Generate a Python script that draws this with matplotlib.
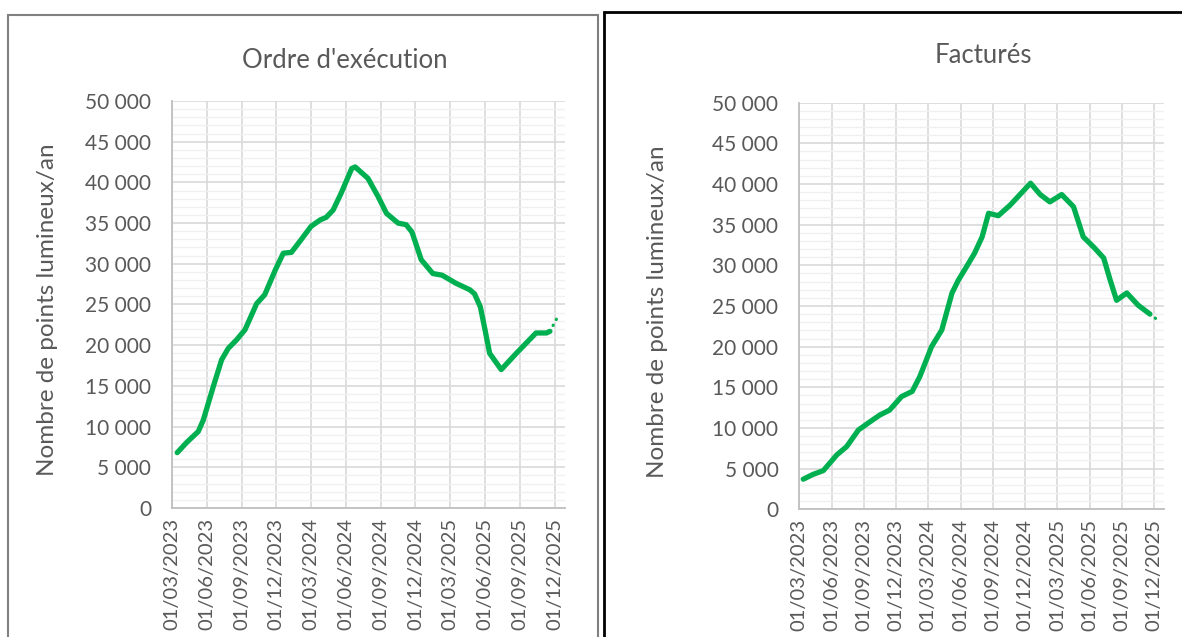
import matplotlib
matplotlib.use("Agg")
import matplotlib.pyplot as plt
from matplotlib.ticker import MultipleLocator, FuncFormatter
from matplotlib.patches import Rectangle

plt.rcParams['font.family'] = ['Lato', 'DejaVu Sans']

# x positions are months counted from 01/03/2023
tick_labels = ["01/03/2023", "01/06/2023", "01/09/2023", "01/12/2023",
               "01/03/2024", "01/06/2024", "01/09/2024", "01/12/2024",
               "01/03/2025", "01/06/2025", "01/09/2025", "01/12/2025"]
tick_months = [0, 3, 6, 9, 12, 15, 18, 21, 24, 27, 30, 33]

# Ordre d'exécution (thousands of points/year)
t_exec = [0.45, 1.3, 2.27, 2.7, 3.56, 4.28, 4.85, 5.6, 6.3, 7.3, 8.0, 8.9,
          9.6, 10.3, 11.0, 12.0, 12.8, 13.3, 13.9, 14.6, 15.5, 15.8, 16.9,
          17.8, 18.5, 19.5, 20.2, 20.7, 21.5, 22.5, 23.3, 24.5, 25.7, 26.1,
          26.6, 27.0, 27.4, 28.4, 29.7, 31.4, 32.3, 32.6]
v_exec = [6.8, 8.1, 9.4, 10.8, 14.9, 18.2, 19.6, 20.7, 21.9, 25.1, 26.2, 29.2,
          31.3, 31.4, 32.7, 34.6, 35.4, 35.7, 36.6, 38.7, 41.7, 41.9, 40.5,
          38.2, 36.2, 35.0, 34.8, 33.9, 30.5, 28.8, 28.6, 27.6, 26.8, 26.3,
          24.7, 21.9, 19.0, 17.0, 19.0, 21.5, 21.5, 21.7]
t_exec_fc = [32.6, 33.2]
v_exec_fc = [21.7, 23.3]

# Facturés
t_fact = [0.37, 1.3, 2.23, 3.5, 4.4, 5.5, 6.4, 7.5, 8.4, 9.5, 10.5, 11.2,
          12.3, 13.25, 14.2, 14.8, 15.4, 16.3, 17.0, 17.6, 18.5, 19.6, 21.5,
          22.4, 23.3, 24.4, 25.5, 26.4, 27.4, 28.3, 28.9, 29.5, 30.45, 31.5,
          32.6]
v_fact = [3.7, 4.3, 4.75, 6.7, 7.7, 9.75, 10.6, 11.6, 12.2, 13.85, 14.5, 16.3,
          20.0, 22.05, 26.6, 28.2, 29.5, 31.5, 33.5, 36.4, 36.1, 37.4, 40.1,
          38.7, 37.8, 38.7, 37.2, 33.5, 32.2, 30.9, 28.2, 25.7, 26.6, 25.1,
          24.0]
t_fact_fc = [32.6, 33.4]
v_fact_fc = [24.0, 23.2]

GREEN = "#00B050"
TXT = "#595959"

fig = plt.figure(figsize=(11.82, 6.37), dpi=100)

# panel frames
fig.patches.append(Rectangle((0.0068, -0.05), 0.4992, 1.0265, transform=fig.transFigure,
                             fill=False, edgecolor="#808080", linewidth=1.5))
fig.patches.append(Rectangle((0.511, -0.05), 0.5, 1.031, transform=fig.transFigure,
                             fill=False, edgecolor="black", linewidth=2))

ax1 = fig.add_axes([0.1455, 0.2025, 0.3325, 0.639])
ax2 = fig.add_axes([0.6762, 0.2005, 0.3085, 0.6383])

def fmt(v, pos):
    return "{:,.0f}".format(v).replace(",", " ")

def style(ax, title, tx, ty, ylx):
    ax.set_xlim(0, 33.9)
    ax.set_ylim(0, 50000)
    ax.set_xticks(tick_months)
    ax.set_xticklabels(tick_labels, rotation=90)
    ax.yaxis.set_major_locator(MultipleLocator(5000))
    ax.yaxis.set_minor_locator(MultipleLocator(1000))
    ax.yaxis.set_major_formatter(FuncFormatter(fmt))
    ax.grid(which="major", color="#D9D9D9", linewidth=1.2)
    ax.grid(which="minor", axis="y", color="#F0F0F0", linewidth=1.0)
    ax.set_axisbelow(True)
    for s in ["top", "right"]:
        ax.spines[s].set_visible(False)
    for s in ["left", "bottom"]:
        ax.spines[s].set_color("#BFBFBF")
        ax.spines[s].set_linewidth(1.3)
    ax.tick_params(which="both", length=0, colors=TXT)
    ax.tick_params(axis="y", pad=15, labelsize=15)
    ax.tick_params(axis="x", pad=7, labelsize=14.5)
    ax.set_ylabel("Nombre de points lumineux/an", fontsize=17.5, color=TXT)
    ax.yaxis.set_label_coords(ylx, 0.487)
    ax.text(tx, ty, title, transform=ax.transAxes, ha="center", va="center",
            fontsize=18.5, color=TXT)

ax1.plot(t_exec, [v * 1000 for v in v_exec], color=GREEN, lw=3.8,
         solid_joinstyle="round", solid_capstyle="round")
ax1.plot(t_exec_fc, [v * 1000 for v in v_exec_fc], color=GREEN, lw=2.3,
         linestyle=(0, (0.1, 2.0)), dash_capstyle="round")
style(ax1, "Ordre d'exécution", 0.44, 1.10, -0.29)

ax2.plot(t_fact, [v * 1000 for v in v_fact], color=GREEN, lw=3.8,
         solid_joinstyle="round", solid_capstyle="round")
ax2.plot(t_fact_fc, [v * 1000 for v in v_fact_fc], color=GREEN, lw=2.3,
         linestyle=(0, (0.1, 2.0)), dash_capstyle="round")
style(ax2, "Facturés", 0.504, 1.117, -0.36)

fig.savefig("out.png", dpi=100)
